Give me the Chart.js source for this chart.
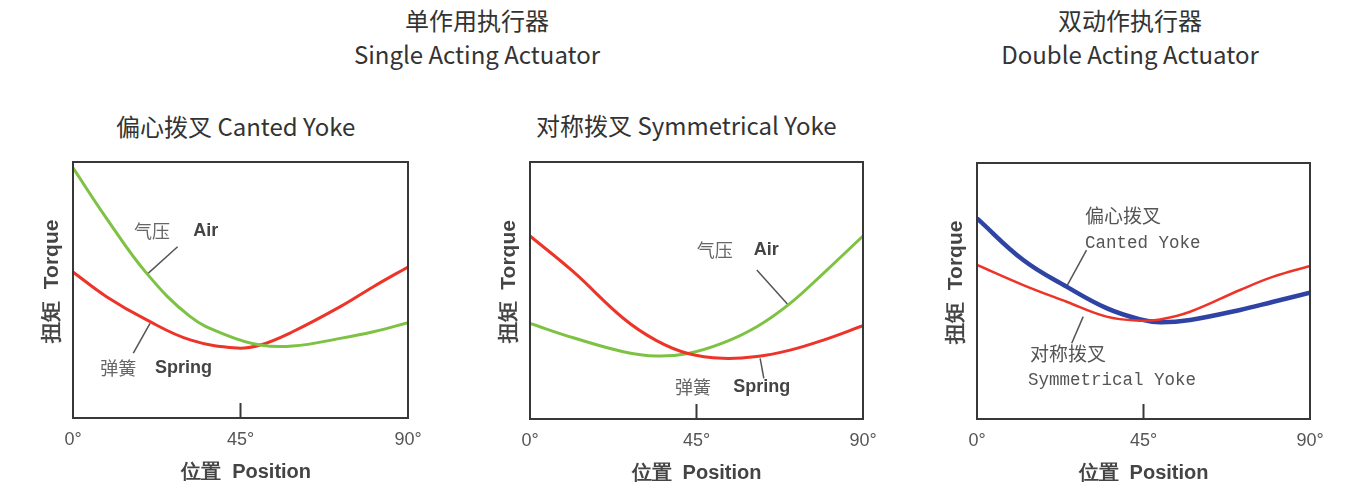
<!DOCTYPE html>
<html>
<head>
<meta charset="utf-8">
<script src="https://cdn.jsdelivr.net/npm/chart.js@4"></script>
<style>
  body { margin: 0; width: 1353px; height: 498px; background: #fff; position: relative; overflow: hidden; }
  .t { position: absolute; font-family: "Noto Sans CJK SC", "Noto Sans", sans-serif; color: #333; white-space: nowrap; }
  .big { font-size: 24px; line-height: 30px; transform: translateX(-50%); }
  .sub { font-size: 24px; line-height: 30px; }
  canvas { position: absolute; }
</style>
</head>
<body>
<div class="t big" style="left:477px; top:5px;">单作用执行器</div>
<div class="t big" style="left:477px; top:39px;">Single Acting Actuator</div>
<div class="t big" style="left:1130px; top:5px;">双动作执行器</div>
<div class="t big" style="left:1130px; top:39px;">Double Acting Actuator</div>
<div class="t sub" style="left:116px; top:111px;">偏心拨叉 Canted Yoke</div>
<div class="t sub" style="left:536px; top:110px;">对称拨叉 Symmetrical Yoke</div>

<canvas id="c1" width="410" height="398" style="left:20px; top:100px;"></canvas>
<canvas id="c2" width="408" height="398" style="left:477px; top:100px;"></canvas>
<canvas id="c3" width="408" height="398" style="left:924px; top:101px;"></canvas>

<script>
// x ticks (degrees)
const xTicks = [0, 45, 90];

// single acting, canted yoke
const posCanted = [0, 9, 19.8, 31.5, 41.2, 50.3, 59, 71.8, 80.7, 90];
const airCanted = [97.7, 78, 56.5, 39.6, 32.4, 28.5, 28.1, 31.1, 33.7, 37.2];
const posCantedSpring = [0, 9, 19.8, 31.5, 44, 50.3, 59, 71.8, 80.7, 90];
const springCanted = [57, 47.4, 38.3, 30.5, 27.3, 28.5, 33.7, 43.5, 51.3, 59];

// single acting, symmetrical yoke
const posSym = [0, 11.7, 25.2, 34.2, 42.7, 52, 61.3, 70.3, 79.3, 90];
const springSym = [71.2, 57.3, 39.2, 30.5, 25.5, 23.6, 24.3, 26.8, 30.7, 36.3];
const airSym = [37.2, 31.6, 26.2, 24.5, 25.5, 29.5, 35.9, 45, 56.7, 71.2];

// double acting
const posDouble = [0, 12.5, 24.2, 35, 44.1, 49.5, 57.6, 71.1, 80.1, 90];
const cantedDouble = [78.4, 62.1, 51.7, 43.3, 38.9, 37.8, 38.7, 42.6, 45.8, 49.3];
const symDouble = [60.2, 52.3, 45.8, 40, 38.4, 38.9, 41.9, 50.4, 55.6, 59.8];

const RED = '#ee3328';
const GREEN = '#7dc242';
const BLUE = '#2e43a3';
const CJK = '"Noto Sans CJK SC", sans-serif';
const SANS = '"Liberation Sans", Arial, sans-serif';
const MONO = '"Liberation Mono", "DejaVu Sans Mono", monospace';

function toPoints(xs, ys) {
  return xs.map((x, i) => ({ x: x, y: ys[i] }));
}

function curve(xs, ys, color, width) {
  return {
    data: toPoints(xs, ys),
    borderColor: color,
    borderWidth: width,
    pointRadius: 0,
    tension: 0.4,
    fill: false,
  };
}

function leader(x1, y1, x2, y2) {
  return {
    data: [{ x: x1, y: y1 }, { x: x2, y: y2 }],
    borderColor: '#555',
    borderWidth: 1.5,
    pointRadius: 0,
    tension: 0,
    fill: false,
  };
}

// frame, 45° tick and curve labels
const framePlugin = {
  id: 'frame',
  afterDraw(chart, args, opts) {
    const { ctx, chartArea: a, scales } = chart;
    ctx.save();
    ctx.strokeStyle = '#383838';
    ctx.lineWidth = 2;
    ctx.strokeRect(a.left, a.top, a.right - a.left, a.bottom - a.top);
    const mx = scales.x.getPixelForValue(45);
    ctx.beginPath();
    ctx.moveTo(mx, a.bottom);
    ctx.lineTo(mx, a.bottom - 15);
    ctx.stroke();
    ctx.textBaseline = 'middle';
    ctx.textAlign = 'left';
    (opts.labels || []).forEach(l => {
      ctx.font = l.font;
      ctx.fillStyle = l.color || '#444';
      ctx.fillText(l.text, scales.x.getPixelForValue(l.x), scales.y.getPixelForValue(l.y));
    });
    ctx.restore();
  }
};

function makeChart(id, datasets, labels, bottomPad, xTitle) {
  return new Chart(document.getElementById(id), {
    type: 'line',
    data: { datasets: datasets },
    options: {
      responsive: false,
      animation: false,
      layout: { padding: { left: 0, top: 62, right: 22, bottom: bottomPad } },
      plugins: {
        legend: { display: false },
        tooltip: { enabled: false },
        frame: { labels: labels },
      },
      scales: {
        x: {
          type: 'linear',
          min: 0,
          max: 90,
          afterBuildTicks: s => { s.ticks = xTicks.map(v => ({ value: v })); },
          afterFit: s => { s.height = 70; s.paddingLeft = 0; s.paddingRight = 0; },
          grid: { display: false },
          border: { display: false },
          ticks: {
            padding: 3,
            color: '#555',
            font: { family: SANS, size: 18 },
            callback: v => v + '°',
          },
          title: {
            display: true,
            text: xTitle,
            color: '#444',
            font: { family: SANS, size: 20, weight: 'bold' },
            padding: { top: 0, bottom: 4 },
          },
        },
        y: {
          min: 0,
          max: 100,
          afterFit: s => { s.width = 53; s.paddingTop = 0; s.paddingBottom = 0; },
          grid: { display: false },
          border: { display: false },
          ticks: { display: false },
          title: {
            display: true,
            text: '   扭矩  Torque',
            color: '#444',
            font: { family: SANS, size: 21, weight: 'bold' },
            padding: { top: 20, bottom: 0 },
          },
        },
      },
    },
    plugins: [framePlugin],
  });
}

const labelCJK = '18px ' + CJK;
const labelLatin = 'bold 18px ' + SANS;

makeChart('c1', [
  curve(posCanted, airCanted, GREEN, 3),
  curve(posCantedSpring, springCanted, RED, 3),
  leader(28.1, 66.9, 19.8, 56),
  leader(20.7, 37, 16.2, 25.3),
], [
  { text: '气压', x: 16.4, y: 73, font: labelCJK, color: '#666' },
  { text: 'Air', x: 32.3, y: 73, font: labelLatin },
  { text: '弹簧', x: 7.3, y: 19.5, font: labelCJK, color: '#666' },
  { text: 'Spring', x: 22, y: 19.5, font: labelLatin },
], 10, '  位置  Position');

makeChart('c2', [
  curve(posSym, springSym, RED, 3),
  curve(posSym, airSym, GREEN, 3),
  leader(61.3, 58, 69.8, 44.4),
  leader(62.2, 23.6, 63.2, 15.8),
], [
  { text: '气压', x: 45.1, y: 65.8, font: labelCJK, color: '#666' },
  { text: 'Air', x: 60.5, y: 65.8, font: labelLatin },
  { text: '弹簧', x: 39.2, y: 12.5, font: labelCJK, color: '#666' },
  { text: 'Spring', x: 54.9, y: 12.5, font: labelLatin },
], 9, '位置  Position');

makeChart('c3', [
  curve(posDouble, symDouble, RED, 2.5),
  curve(posDouble, cantedDouble, BLUE, 4.5),
  leader(29.6, 66, 24.2, 51.7),
  leader(28.7, 40, 25.6, 29.6),
], [
  { text: '偏心拨叉', x: 29.2, y: 79.3, font: '19px ' + CJK, color: '#555' },
  { text: 'Canted Yoke', x: 29.2, y: 68.75, font: '17.5px ' + MONO, color: '#555' },
  { text: '对称拨叉', x: 14.3, y: 25.4, font: '19px ' + CJK, color: '#555' },
  { text: 'Symmetrical Yoke', x: 13.8, y: 15.2, font: '17.5px ' + MONO, color: '#555' },
], 10, '位置  Position');
</script>
</body>
</html>
